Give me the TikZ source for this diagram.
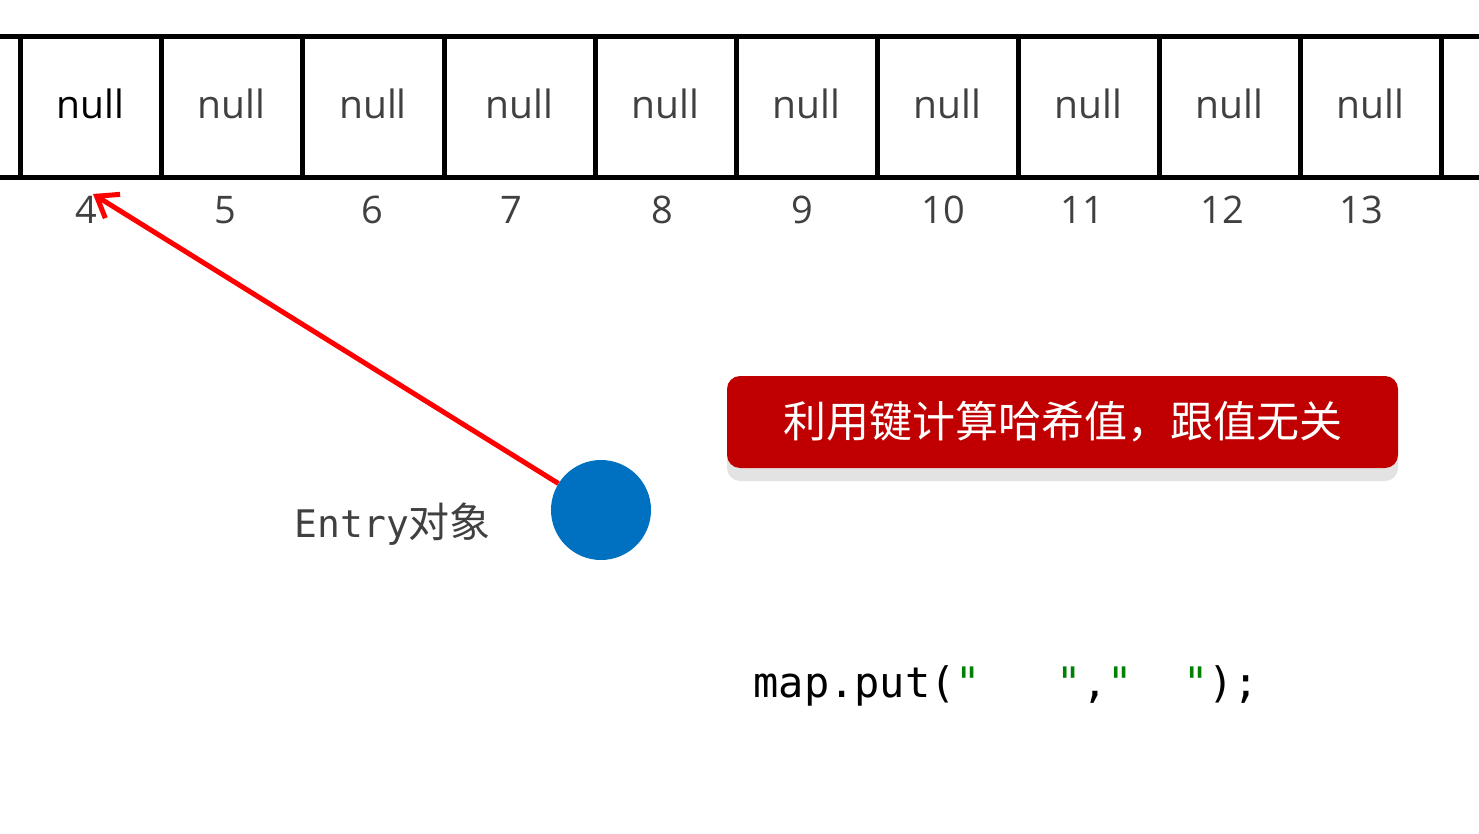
\documentclass[tikz,border=0pt]{standalone}
\usepackage{fontspec}
\setmainfont{Open Sans}
\newfontfamily\codefont{DejaVu Sans Mono}
\newfontfamily\cjk{Noto Sans CJK SC}
\usetikzlibrary{arrows.meta,shadows}
\definecolor{entryblue}{HTML}{0070C0}
\definecolor{hintred}{HTML}{C00000}
\definecolor{hintshade}{HTML}{E3E3E3}
\definecolor{strgreen}{HTML}{008000}
\definecolor{idxgray}{HTML}{404040}

\begin{document}
\begin{tikzpicture}[x=1pt,y=-1pt,
  cell/.style={draw=black,line width=5pt,inner sep=0pt,minimum width=141pt,minimum height=141pt,text depth=8pt,text=idxgray,font=\fontsize{39}{39}\selectfont},
  idx/.style={anchor=base,text=idxgray,font=\fontsize{38}{38}\selectfont},
  rail/.style={line width=5pt},
  obj/.style={circle,fill=entryblue,inner sep=0pt,minimum size=100pt},
  hint/.style={fill=hintred,rounded corners=13pt,inner sep=0pt,minimum width=671pt,minimum height=92pt,text=white,font=\cjk\fontsize{43}{43}\selectfont,
    drop shadow={shadow xshift=0pt,shadow yshift=-13pt,fill=hintshade,opacity=1}},
  ar/.style={-{Straight Barb[length=19pt,width=28pt]},line width=5pt,draw=red}]
\useasboundingbox (0,0) rectangle (1479,834);
% bucket array
\draw[rail] (0,37) -- (1479,37); \draw[rail] (0,178) -- (1479,178);
\node[cell,text=black] (b4) at (90.5,107.5) {null};
\node[cell] (b5) at (231.5,107.5) {null};
\node[cell,minimum width=142pt] (b6) at (373,107.5) {null};
\node[cell,minimum width=151pt] (b7) at (519.5,107.5) {null};
\node[cell] (b8) at (665.5,107.5) {null};
\node[cell] (b9) at (806.5,107.5) {null};
\node[cell] (b10) at (947.5,107.5) {null};
\node[cell] (b11) at (1088.5,107.5) {null};
\node[cell] (b12) at (1229.5,107.5) {null};
\node[cell] (b13) at (1370.5,107.5) {null};
\node[idx] (i4) at (86,224) {4};
\node[idx] (i5) at (225,224) {5};
\node[idx] (i6) at (372,224) {6};
\node[idx] (i7) at (511,224) {7};
\node[idx] (i8) at (662,224) {8};
\node[idx] (i9) at (802,224) {9};
\node[idx] (i10) at (943,224) {10};
\node[idx] (i11) at (1082,224) {11};
\node[idx] (i12) at (1222,224) {12};
\node[idx] (i13) at (1361,224) {13};
% entry and its bucket
\coordinate (slot) at (93,194);
\node[obj] (entry) at (601,510) {};
\node[anchor=base west,text=idxgray,font=\codefont\fontsize{38}{38}\selectfont] (entrytxt) at (291,537) {Entry{\cjk\fontsize{41}{41}\selectfont 对象}};
\draw[ar] (entry) -- (slot);
\node[hint] (note) at (1062.5,422) {利用键计算哈希值，跟值无关};
\node[anchor=base west,font=\codefont\fontsize{42}{42}\selectfont] (call) at (750,697)
  {map.put(\textcolor{strgreen}{"}\ \ \ \textcolor{strgreen}{"},\textcolor{strgreen}{"}\ \ \textcolor{strgreen}{"});};
\end{tikzpicture}
\end{document}
